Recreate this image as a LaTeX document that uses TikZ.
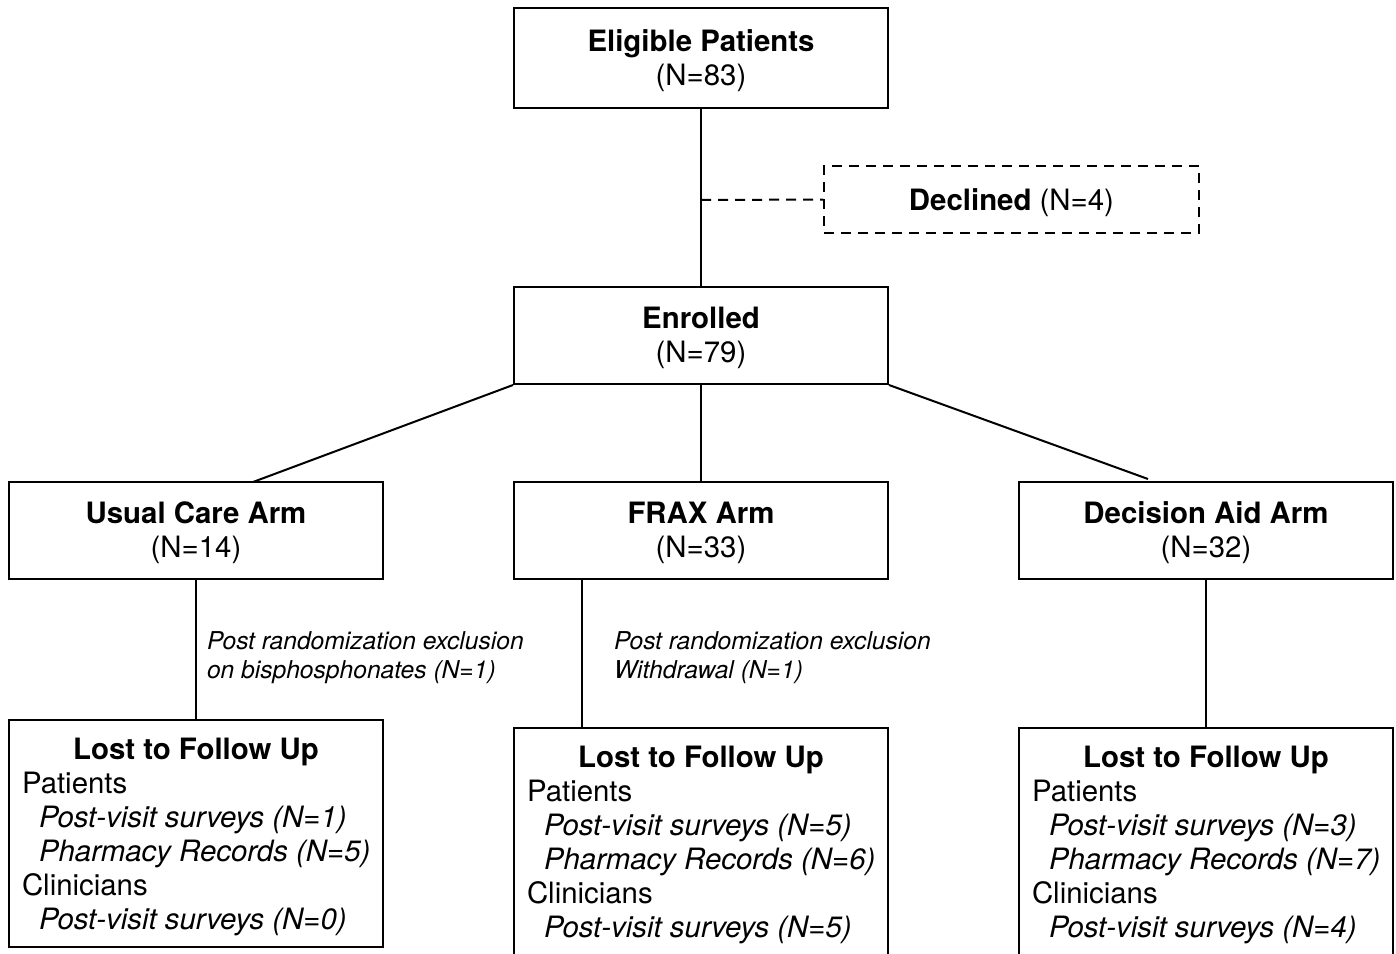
\documentclass[tikz,border=0pt]{standalone}
\usepackage{fontspec}
\setmainfont{TeX Gyre Heros}
\begin{document}
\begin{tikzpicture}[x=1pt,y=-1pt,line width=2pt,
  box/.style={draw,line width=2pt,minimum width=374pt,minimum height=97pt,inner sep=0pt},
  boxtxt/.style={align=center,inner sep=0pt,font=\fontsize{29.4}{34}\selectfont},
  txt/.style={inner sep=0pt,anchor=base west,font=\fontsize{29.4}{34}\selectfont},
  ttl/.style={inner sep=0pt,anchor=base,font=\fontsize{29.4}{34}\selectfont\bfseries},
  lbl/.style={inner sep=0pt,anchor=base west,font=\fontsize{24.6}{29}\selectfont\itshape},
  dashline/.style={line width=2pt,dash pattern=on 10pt off 7pt}]
\clip (0,0) rectangle (1396,953);
% boxes
\node[box,minimum height=100pt] (elig) at (701,58) {};
\node[box,dashline,minimum width=375pt,minimum height=67pt] (decl) at (1011.5,199.5) {};
\node[box] (enr) at (701,335.5) {};
\node[box] (usual) at (196,530.5) {};
\node[box] (frax) at (701,530.5) {};
\node[box] (da) at (1206,530.5) {};
\node[box,minimum height=227pt] (lostL) at (196,833.5) {};
\node[box,minimum height=242pt] (lostM) at (701,849) {};
\node[box,minimum height=242pt] (lostR) at (1206,849) {};
% box texts
\node[boxtxt] (eligT) at (701,61) {\textbf{Eligible Patients}\\(N=83)};
\node[boxtxt] (declT) at (1011.5,202.5) {\textbf{Declined} (N=4)};
\node[boxtxt] (enrT) at (701,337.5) {\textbf{Enrolled}\\(N=79)};
\node[boxtxt] (usualT) at (196,532.5) {\textbf{Usual Care Arm}\\(N=14)};
\node[boxtxt] (fraxT) at (701,532.5) {\textbf{FRAX Arm}\\(N=33)};
\node[boxtxt] (daT) at (1206,532.5) {\textbf{Decision Aid Arm}\\(N=32)};
% connectors
\coordinate (dj) at (701,200);
\coordinate (ul) at (253,482);
\coordinate (dr) at (1148,479);
\draw (elig.south) -- (enr.north);
\draw[dashline] (dj) -- (decl.west);
\draw (enr.south west) -- (ul);
\draw (enr.south) -- (frax.north);
\draw (enr.south east) -- (dr);
\draw (usual.south) -- (lostL.north);
\draw ([xshift=69pt]frax.south west) -- ([xshift=69pt]lostM.north west);
\draw (da.south) -- (lostR.north);
% exclusion labels
\node[lbl] (exA1) at (206,649) {Post randomization exclusion};
\node[lbl] (exA2) at (206,678) {on bisphosphonates (N=1)};
\node[lbl] (exB1) at (613,649) {Post randomization exclusion};
\node[lbl] (exB2) at (613,678) {Withdrawal (N=1)};
% left lost box text
\node[ttl] (tL) at (196,759) {Lost to Follow Up};
\node[txt] (pL) at (21,793) {Patients};
\node[txt] (p1L) at (38,827) {\itshape Post-visit surveys (N=1)};
\node[txt] (p2L) at (38,861) {\itshape Pharmacy Records (N=5)};
\node[txt] (cL) at (21,895) {Clinicians};
\node[txt] (c1L) at (38,929) {\itshape Post-visit surveys (N=0)};
% middle lost box text
\node[ttl] (tM) at (701,767) {Lost to Follow Up};
\node[txt] (pM) at (526,801) {Patients};
\node[txt] (p1M) at (543,835) {\itshape Post-visit surveys (N=5)};
\node[txt] (p2M) at (543,869) {\itshape Pharmacy Records (N=6)};
\node[txt] (cM) at (526,903) {Clinicians};
\node[txt] (c1M) at (543,937) {\itshape Post-visit surveys (N=5)};
% right lost box text
\node[ttl] (tR) at (1206,767) {Lost to Follow Up};
\node[txt] (pR) at (1031,801) {Patients};
\node[txt] (p1R) at (1048,835) {\itshape Post-visit surveys (N=3)};
\node[txt] (p2R) at (1048,869) {\itshape Pharmacy Records (N=7)};
\node[txt] (cR) at (1031,903) {Clinicians};
\node[txt] (c1R) at (1048,937) {\itshape Post-visit surveys (N=4)};
\end{tikzpicture}
\end{document}
